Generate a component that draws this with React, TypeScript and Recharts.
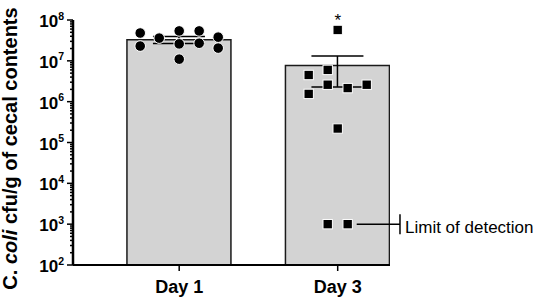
import React from "react";
import {
  ComposedChart,
  Bar,
  Scatter,
  XAxis,
  YAxis,
  ErrorBar,
  ReferenceLine,
  ReferenceDot,
} from "recharts";

// group labels and where they sit on the x scale
const days = ["Day 1", "Day 3"];
const dayPos = [0.67, 1.67];
const meanCfu = [3.3e7, 7.7e6];
const semCfu = [6.5e6, 5.4e6];
const sigMark = ["", "*"];

// individual birds, day 1 (circles) and day 3 (squares)
const day1Cfu = [4.8e7, 2.3e7, 3.6e7, 5.4e7, 2.6e7, 1.1e7, 5.4e7, 2.7e7, 3.8e7, 2.05e7];
const day1Jitter = [-0.246, -0.246, -0.126, 0, 0, 0, 0.126, 0.126, 0.246, 0.246];
const day3Cfu = [5.7e7, 4.5e6, 6.0e6, 1.55e6, 2.6e6, 2.15e6, 2.6e6, 2.2e5, 1.0e3, 1.0e3];
const day3Jitter = [0, -0.183, -0.063, -0.183, -0.063, 0.063, 0.183, 0, -0.063, 0.063];

const detectionLimit = 1e3;
const decades = [2, 3, 4, 5, 6, 7, 8];
const minorSteps = [2, 3, 4, 5, 6, 7, 8, 9];

const yTicks: number[] = [];
decades.forEach((d) => {
  yTicks.push(Math.pow(10, d));
  if (d < 8) minorSteps.forEach((m) => yTicks.push(m * Math.pow(10, d)));
});

const barData = days.map((day, i) => ({
  day,
  x: dayPos[i],
  mean: meanCfu[i],
  sem: semCfu[i],
}));
const day1Points = day1Cfu.map((cfu, i) => ({ x: dayPos[0] + day1Jitter[i], cfu }));
const day3Points = day3Cfu.map((cfu, i) => ({ x: dayPos[1] + day3Jitter[i], cfu }));

const font = '"Liberation Sans", Arial, sans-serif';

const YTick = (props: any) => {
  const { x, y, payload } = props;
  const lg = Math.log10(payload.value);
  const exp = Math.round(lg);
  const major = Math.abs(lg - exp) < 1e-6;
  return (
    <g>
      <line x1={x - (major ? 6 : 3)} y1={y} x2={x} y2={y} stroke="#000" strokeWidth={1.5} />
      {major && (
        <text x={x - 9} y={y + 7} textAnchor="end" fontFamily={font} fontWeight="bold" fontSize={17} fill="#000">
          <tspan>10</tspan>
          <tspan dy={-7.5} fontSize={10.5}>{exp}</tspan>
        </text>
      )}
    </g>
  );
};

const YLabel = (props: any) => {
  const vb = props.viewBox || { x: 13, y: 20, height: 245 };
  const cx = vb.x - 3.5;
  const cy = vb.y + vb.height / 2 + 6;
  return (
    <text
      x={cx}
      y={cy}
      transform={`rotate(-90 ${cx} ${cy})`}
      textAnchor="middle"
      dominantBaseline="central"
      fontFamily={font}
      fontWeight="bold"
      fontSize={20}
      fill="#000"
    >
      <tspan>C. </tspan>
      <tspan fontStyle="italic">coli</tspan>
      <tspan> cfu/g of cecal contents</tspan>
    </text>
  );
};

const LodLabel = (props: any) => {
  const { x, y, width } = props.viewBox;
  const ex = x + width;
  return (
    <g>
      <line x1={ex} y1={y - 10} x2={ex} y2={y + 10} stroke="#000" strokeWidth={1.5} />
      <text x={ex + 5} y={y + 9} fontFamily={font} fontSize={17} fill="#000">
        Limit of detection
      </text>
    </g>
  );
};

const CircleDot = (p: any) => (
  <circle cx={p.cx} cy={p.cy} r={5.3} fill="#000" stroke="#fff" strokeWidth={1} />
);
const SquareDot = (p: any) => (
  <rect x={p.cx - 4.7} y={p.cy - 4.7} width={9.4} height={9.4} fill="#000" stroke="#fff" strokeWidth={1} />
);

export default function App() {
  return (
    <div style={{ position: "absolute", left: 0, top: 0, background: "#fff", fontFamily: font }}>
      <ComposedChart
        width={536}
        height={298}
        data={barData}
        margin={{ top: 20, right: 146, left: 13, bottom: 3 }}
      >
        <XAxis
          xAxisId="bars"
          type="number"
          dataKey="x"
          domain={[0, 2]}
          allowDataOverflow
          ticks={dayPos}
          interval={0}
          tickFormatter={(v: number) => days[dayPos.indexOf(v)]}
          axisLine={{ stroke: "#000", strokeWidth: 2 }}
          tickLine={{ stroke: "#000", strokeWidth: 1.5 }}
          tickSize={6}
          tickMargin={9}
          tick={{ fill: "#000", fontSize: 18, fontWeight: "bold", fontFamily: font }}
        />
        <XAxis xAxisId="pts" type="number" dataKey="x" domain={[0, 2]} allowDataOverflow hide />
        <YAxis
          type="number"
          scale="log"
          domain={[100, 1e8]}
          allowDataOverflow
          ticks={yTicks}
          interval={0}
          width={60}
          tick={<YTick />}
          tickLine={false}
          tickSize={0}
          tickMargin={0}
          axisLine={{ stroke: "#000", strokeWidth: 2.5 }}
          label={<YLabel />}
        />
        <Bar
          xAxisId="bars"
          dataKey="mean"
          barSize={104}
          fill="#d3d3d3"
          stroke="#1a1a1a"
          strokeWidth={1.5}
          isAnimationActive={false}
        >
          <ErrorBar dataKey="sem" width={26} stroke="#000" strokeWidth={1.5} direction="y" />
        </Bar>
        <ReferenceLine
          xAxisId="bars"
          segment={[
            { x: dayPos[1] + 0.12, y: detectionLimit },
            { x: 2.063, y: detectionLimit },
          ]}
          ifOverflow="visible"
          stroke="#000"
          strokeWidth={1.5}
          label={<LodLabel />}
        />
        <Scatter xAxisId="pts" data={day1Points} dataKey="cfu" shape={<CircleDot />} isAnimationActive={false} />
        <Scatter xAxisId="pts" data={day3Points} dataKey="cfu" shape={<SquareDot />} isAnimationActive={false} />
        {sigMark.map((m, i) =>
          m ? (
            <ReferenceDot
              key={i}
              xAxisId="bars"
              x={dayPos[i]}
              y={Math.max(...(i === 0 ? day1Cfu : day3Cfu))}
              r={0}
              stroke="none"
              ifOverflow="visible"
              label={{ value: m, position: "top", fill: "#000", fontSize: 17, fontFamily: font, offset: 4 }}
            />
          ) : null
        )}
      </ComposedChart>
    </div>
  );
}
